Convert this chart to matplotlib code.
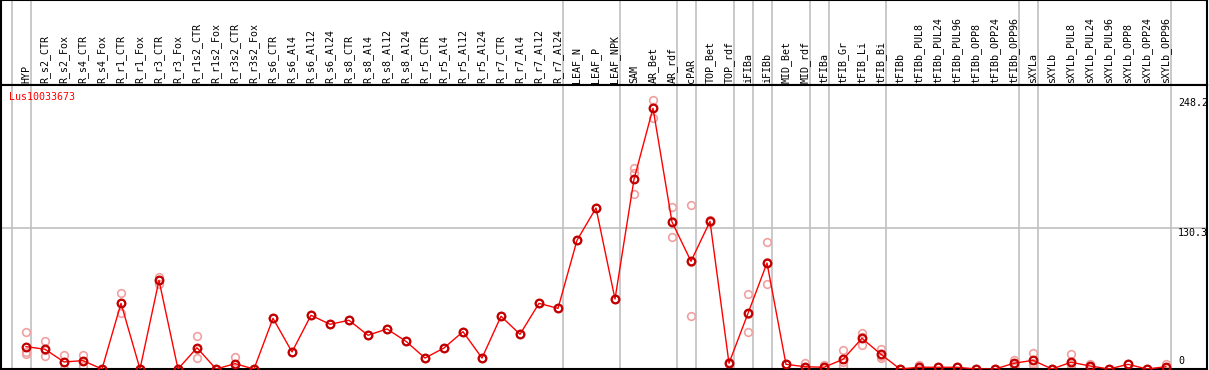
import numpy as np
import matplotlib
matplotlib.use('Agg')
import matplotlib.pyplot as plt

# sample names, left to right
samples = ['HYP', 'R_s2_CTR', 'R_s2_Fox', 'R_s4_CTR', 'R_s4_Fox', 'R_r1_CTR', 'R_r1_Fox',
           'R_r3_CTR', 'R_r3_Fox', 'R_r1s2_CTR', 'R_r1s2_Fox', 'R_r3s2_CTR', 'R_r3s2_Fox',
           'R_s6_CTR', 'R_s6_Al4', 'R_s6_Al12', 'R_s6_Al24', 'R_s8_CTR', 'R_s8_Al4',
           'R_s8_Al12', 'R_s8_Al24', 'R_r5_CTR', 'R_r5_Al4', 'R_r5_Al12', 'R_r5_Al24',
           'R_r7_CTR', 'R_r7_Al4', 'R_r7_Al12', 'R_r7_Al24', 'LEAF_N', 'LEAF_P', 'LEAF_NPK',
           'SAM', 'AR_Bet', 'AR_rdf', 'cPAR', 'TOP_Bet', 'TOP_rdf', 'iFIBa', 'iFIBb',
           'MID_Bet', 'MID_rdf', 'tFIBa', 'tFIB_Gr', 'tFIB_Li', 'tFIB_Bi', 'tFIBb',
           'tFIBb_PUL8', 'tFIBb_PUL24', 'tFIBb_PUL96', 'tFIBb_OPP8', 'tFIBb_OPP24', 'tFIBb_OPP96',
           'sXYLa', 'sXYLb', 'sXYLb_PUL8', 'sXYLb_PUL24', 'sXYLb_PUL96', 'sXYLb_OPP8',
           'sXYLb_OPP24', 'sXYLb_OPP96']

# mean expression per sample
means = [20.6, 18.2, 6.5, 7.7, 0, 60.5, 0, 81.7, 0, 19.6, 0, 4.9, 0,
         46.7, 15.7, 49.5, 41.2, 44.9, 31.1, 36.9, 25.5, 10.1, 19.4, 34.4, 10.1,
         48.6, 32.0, 60.5, 55.9, 118.6, 148.4, 64.5,
         174.8, 240.3, 135.5, 99.3, 136.1, 5.3, 51.3, 97.7, 4.3, 2.1, 1.6, 8.9,
         28.3, 13.5, 0, 1.6, 1.6, 1.6, 0, 0, 5.3, 8.0, 0, 6.2, 2.8, 0, 4.3, 0, 2.1]

# replicate values
rep_a = [33.8, 25.5, 12.6, 12.9, 0, 69.8, 0, 84.5, 0, 30.1, 0, 11.1, 0,
         46.7, 15.7, 49.5, 41.2, 44.9, 31.1, 36.9, 25.5, 10.1, 19.4, 34.4, 10.1,
         48.6, 32.0, 60.5, 55.9, 118.6, 148.4, 64.5,
         185.3, 248.2, 149.0, 150.9, 137.0, 6.0, 69.1, 116.8, 4.3, 5.3, 3.7, 17.5,
         33.2, 18.7, 0, 3.7, 1.6, 1.6, 0, 0, 8.3, 14.5, 0, 13.8, 4.7, 0, 4.3, 0, 4.7]
rep_b = [16.0, 11.7, 0, 3.0, 0, 51.3, 0, 82.0, 0, 9.9, 0, 0, 0,
         46.7, 15.7, 49.5, 41.2, 44.9, 31.1, 36.9, 25.5, 10.1, 19.4, 34.4, 10.1,
         48.6, 32.0, 60.5, 55.9, 118.6, 148.4, 64.5,
         180.9, 231.0, 121.4, 48.6, 135.5, 4.8, 33.8, 78.1, 4.3, 0.5, 0.5, 2.8,
         22.1, 9.9, 0, 0.5, 1.6, 1.6, 0, 0, 3.5, 3.7, 0, 0.6, 2.0, 0, 4.3, 0, 0.8]
rep_c = [13.8, 17.4, 6.9, 7.2, 0, 60.4, 0, 78.6, 0, 18.8, 0, 3.6, 0,
         46.7, 15.7, 49.5, 41.2, 44.9, 31.1, 36.9, 25.5, 10.1, 19.4, 34.4, 10.1,
         48.6, 32.0, 60.5, 55.9, 118.6, 148.4, 64.5,
         161.0, 241.7, 136.1, 98.4, 135.8, 5.1, 51.0, 98.2, 4.3, 0.5, 0.6, 6.4,
         29.6, 11.9, 0, 0.6, 1.6, 1.6, 0, 0, 4.1, 5.8, 0, 4.2, 1.7, 0, 4.3, 0, 0.8]

# group separators (after these sample indices)
separators = [-0.75, 0.25, 28.25, 31.25, 34.25, 35.25, 37.25, 38.25, 39.25,
              41.25, 42.25, 45.25, 52.25, 53.25, 60.25]
gene = 'Lus10033673'
y_max = 248.2
y_mid = 130.3

W, H = 1209, 370
fig = plt.figure(figsize=(W / 100, H / 100), dpi=100)
x = np.arange(len(samples))
xlim = (-25 / 19, 1181 / 19)
ytop = 284 / 1.085

# header with sample names
hdr = fig.add_axes([1 / W, (H - 85) / H, 1206 / W, 85 / H])
hdr.set_xlim(*xlim)
hdr.set_ylim(0, 1)
hdr.set_xticks([])
hdr.set_yticks([])
for s in hdr.spines.values():
    s.set_color('black')
    s.set_linewidth(1.5)
for sx in separators:
    hdr.axvline(sx, color='#c0c0c0', lw=1.2, zorder=0)
for i, name in enumerate(samples):
    hdr.text(i, 2 / 85, name, rotation=90, ha='center', va='bottom',
             fontsize=7.2, family='DejaVu Sans Mono', color='black')

# main plot
ax = fig.add_axes([1 / W, 1 / H, 1206 / W, 284 / H])
ax.set_xlim(*xlim)
ax.set_ylim(0, ytop)
ax.set_xticks([])
ax.set_yticks([])
for s in ax.spines.values():
    s.set_color('black')
    s.set_linewidth(1.5)
for sx in separators:
    ax.axvline(sx, color='#c0c0c0', lw=1.2, zorder=0)
ax.axhline(y_mid, color='#c0c0c0', lw=1.2, zorder=0)

for reps in (rep_a, rep_b, rep_c):
    ax.plot(x, reps, linestyle='none', marker='o', ms=5.5, mfc='none',
            mec='#f0a0a0', mew=1.2, zorder=2)
ax.plot(x, means, color='#ff0000', lw=1.0, zorder=3)
ax.plot(x, means, linestyle='none', marker='o', ms=5.5, mfc='none',
        mec='#c00000', mew=1.6, zorder=4)

ax.text(8 / 1206, (369 - 97) / 284, gene, transform=ax.transAxes, ha='left',
        va='center', fontsize=7.2, family='DejaVu Sans Mono', color='#ff0000')

lx = (1178 - 26) / 19
ax.text(lx, y_max + 2, f'{y_max}', ha='left', va='top', fontsize=7.2,
        family='DejaVu Sans Mono')
ax.text(lx, y_mid, f'{y_mid}', ha='left', va='top', fontsize=7.2,
        family='DejaVu Sans Mono')
ax.text(lx, 2.5, '0', ha='left', va='bottom', fontsize=7.2,
        family='DejaVu Sans Mono')

fig.savefig('out.png', dpi=100)
